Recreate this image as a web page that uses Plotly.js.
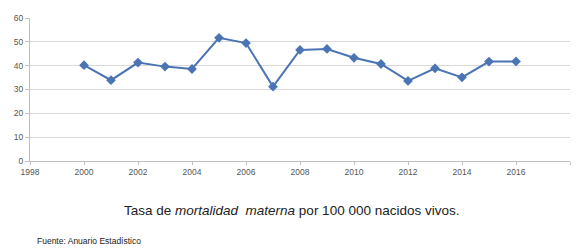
<!DOCTYPE html>
<html>
<head>
<meta charset="utf-8">
<script src="https://cdn.plot.ly/plotly-3.0.1.min.js"></script>
<style>
html,body{margin:0;padding:0;background:#fff;}
#chart{width:577px;height:249px;}
</style>
</head>
<body>
<div id="chart"></div>
<script>
const years = [2000,2001,2002,2003,2004,2005,2006,2007,2008,2009,2010,2011,2012,2013,2014,2015,2016];
const rates = [40.2,33.9,41.3,39.6,38.6,51.7,49.5,31.2,46.6,47.0,43.3,40.7,33.6,38.9,35.1,41.7,41.8];
const xTicks = [1998,2000,2002,2004,2006,2008,2010,2012,2014,2016,2018];
const yTicks = [0,10,20,30,40,50,60];
const caption = 'Tasa de <i>mortalidad  materna</i> por 100 000 nacidos vivos.';
const source = 'Fuente: Anuario Estadístico';

const trace = {
  x: years, y: rates, type: 'scatter', mode: 'lines+markers',
  line: {color: '#4a74b4', width: 2},
  marker: {symbol: 'diamond', size: 7.5, color: '#4a74b4'},
  hoverinfo: 'skip'
};
const layout = {
  width: 577, height: 249,
  margin: {l: 30, r: 7, t: 18, b: 88},
  paper_bgcolor: '#fff', plot_bgcolor: '#fff',
  showlegend: false,
  font: {family: 'Liberation Sans, Arial, sans-serif', color: '#444'},
  xaxis: {
    range: [1998, 2018], tickvals: xTicks, ticktext: xTicks.map(String),
    showgrid: false, zeroline: false, showline: true, linecolor: '#bfbfbf', linewidth: 1,
    ticks: 'outside', ticklen: 3, tickcolor: '#bfbfbf',
    tickfont: {size: 8.5, color: '#555'}
  },
  yaxis: {
    range: [0, 60], tickvals: yTicks, ticktext: yTicks.map(String),
    showgrid: true, gridcolor: '#d9d9d9', gridwidth: 1, zeroline: false,
    showline: true, linecolor: '#bfbfbf', linewidth: 1,
    ticks: 'outside', ticklen: 4, tickcolor: '#bfbfbf',
    tickfont: {size: 8.5, color: '#555'}
  },
  annotations: [
    {text: caption, xref: 'paper', yref: 'paper', x: 0.485, y: -0.345, xanchor: 'center', yanchor: 'middle',
     showarrow: false, font: {size: 13.5, color: '#222', family: 'Liberation Sans, Arial, sans-serif'}},
    {text: source, xref: 'paper', yref: 'paper', x: 0.01, y: -0.56, xanchor: 'left', yanchor: 'middle',
     showarrow: false, font: {size: 8.5, color: '#222', family: 'Liberation Sans, Arial, sans-serif'}}
  ]
};
Plotly.newPlot('chart', [trace], layout, {displayModeBar: false, staticPlot: true});
</script>
</body>
</html>
